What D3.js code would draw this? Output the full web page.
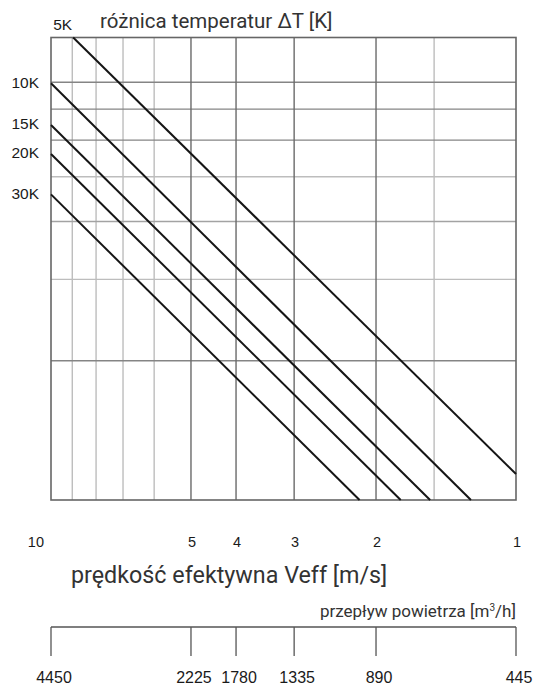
<!DOCTYPE html>
<html>
<head>
<meta charset="utf-8">
<script src="https://cdn.jsdelivr.net/npm/d3@7"></script>
<style>
  html, body { margin: 0; padding: 0; background: #fff; }
  svg { display: block; }
</style>
</head>
<body>
<svg id="chart" width="534" height="685"></svg>
<script>
// Air speed along the horizontal axis [m/s], log scale running 10 → 1
const speedTicks = [10, 5, 4, 3, 2, 1];
const speedMajorGrid = [5, 4, 3, 2];
const speedMinorGrid = [9, 8, 7, 6, 1.5];

// Vertical log scale 1…10 (unlabelled), gridlines
const levelMajorGrid = [8, 7, 6, 2];
const levelMidGrid = [4];
const levelMinorGrid = [5, 3];

// Temperature difference lines: endpoints as [speed, level]
const deltaT = ["5K", "10K", "15K", "20K", "30K"];
const lineStart = [[8.96, 10], [10, 7.96], [10, 6.47], [10, 5.6], [10, 4.58]];
const lineEnd = [[1, 1.138], [1.25, 1], [1.53, 1], [1.77, 1], [2.17, 1]];

// Air flow scale [m³/h]
const flowTicks = [4450, 2225, 1780, 1335, 890, 445];

const svg = d3.select("#chart");
const m = { left: 51, right: 516, top: 37.5, bottom: 500 };

const x = d3.scaleLog().domain([10, 1]).range([m.left, m.right]);
const y = d3.scaleLog().domain([1, 10]).range([m.bottom, m.top]);
const xFlow = d3.scaleLog().domain([4450, 445]).range([m.left, m.right]);

const labelFont = "Liberation Sans, Arial, sans-serif";
const titleFont = "Roboto, 'Noto Sans', sans-serif";

// Grid
const grid = svg.append("g");
function vGrid(vals, color) {
  grid.selectAll(null).data(vals).enter().append("line")
    .attr("x1", d => x(d)).attr("x2", d => x(d))
    .attr("y1", m.top).attr("y2", m.bottom)
    .attr("stroke", color).attr("stroke-width", 1.4);
}
function hGrid(vals, color) {
  grid.selectAll(null).data(vals).enter().append("line")
    .attr("x1", m.left).attr("x2", m.right)
    .attr("y1", d => y(d)).attr("y2", d => y(d))
    .attr("stroke", color).attr("stroke-width", 1.4);
}
vGrid(speedMinorGrid, "#bdbdbd");
hGrid(levelMinorGrid, "#bdbdbd");
hGrid(levelMidGrid, "#a3a3a3");
hGrid(levelMajorGrid, "#858585");
vGrid(speedMajorGrid, "#6a6a6a");

// Frame
svg.append("rect")
  .attr("x", m.left).attr("y", m.top)
  .attr("width", m.right - m.left).attr("height", m.bottom - m.top)
  .attr("fill", "none").attr("stroke", "#666").attr("stroke-width", 1.6);

// ΔT lines
const lines = svg.append("g");
deltaT.forEach((name, i) => {
  lines.append("line")
    .attr("x1", x(lineStart[i][0])).attr("y1", y(lineStart[i][1]))
    .attr("x2", x(lineEnd[i][0])).attr("y2", y(lineEnd[i][1]))
    .attr("stroke", "#151515").attr("stroke-width", 2);
  const atTop = lineStart[i][1] === 10;
  lines.append("text")
    .attr("x", atTop ? x(lineStart[i][0]) - 1 : m.left - 12)
    .attr("y", atTop ? m.top - 8 : y(lineStart[i][1]) + 4.5)
    .attr("text-anchor", "end")
    .attr("font-family", labelFont).attr("font-size", 15.5)
    .attr("fill", "#1a1a1a")
    .text(name);
});

// Title over the grid
svg.append("text")
  .attr("x", 100).attr("y", 28)
  .attr("font-family", titleFont).attr("font-size", 20.5)
  .attr("fill", "#333")
  .text("różnica temperatur ΔT [K]");

// Speed labels
svg.append("g").selectAll("text").data(speedTicks).enter().append("text")
  .attr("x", d => d === 10 ? x(d) - 7 : x(d) + 1)
  .attr("y", 547)
  .attr("text-anchor", d => d === 10 ? "end" : "middle")
  .attr("font-family", labelFont).attr("font-size", 14.5)
  .attr("fill", "#1a1a1a")
  .text(d => d);

svg.append("text")
  .attr("x", 71).attr("y", 583)
  .attr("font-family", titleFont).attr("font-size", 23.3)
  .attr("fill", "#333")
  .text("prędkość efektywna Veff [m/s]");

// Flow axis
const flowY = 627;
svg.append("line")
  .attr("x1", xFlow(4450)).attr("x2", xFlow(445))
  .attr("y1", flowY).attr("y2", flowY)
  .attr("stroke", "#555").attr("stroke-width", 1.3);
const fTicks = svg.append("g");
fTicks.selectAll("line").data(flowTicks).enter().append("line")
  .attr("x1", d => xFlow(d)).attr("x2", d => xFlow(d))
  .attr("y1", flowY).attr("y2", flowY + 29)
  .attr("stroke", "#555").attr("stroke-width", 1.3);
fTicks.selectAll("text").data(flowTicks).enter().append("text")
  .attr("x", d => xFlow(d) + 3)
  .attr("y", 683)
  .attr("text-anchor", "middle")
  .attr("font-family", labelFont).attr("font-size", 16)
  .attr("fill", "#1a1a1a")
  .text(d => d);

const flowTitle = svg.append("text")
  .attr("x", m.right).attr("y", 617)
  .attr("text-anchor", "end")
  .attr("font-family", titleFont).attr("font-size", 17)
  .attr("fill", "#333");
flowTitle.append("tspan").text("przepływ powietrza [m");
flowTitle.append("tspan").attr("dy", -6).attr("font-size", 10).text("3");
flowTitle.append("tspan").attr("dy", 6).text("/h]");
</script>
</body>
</html>
